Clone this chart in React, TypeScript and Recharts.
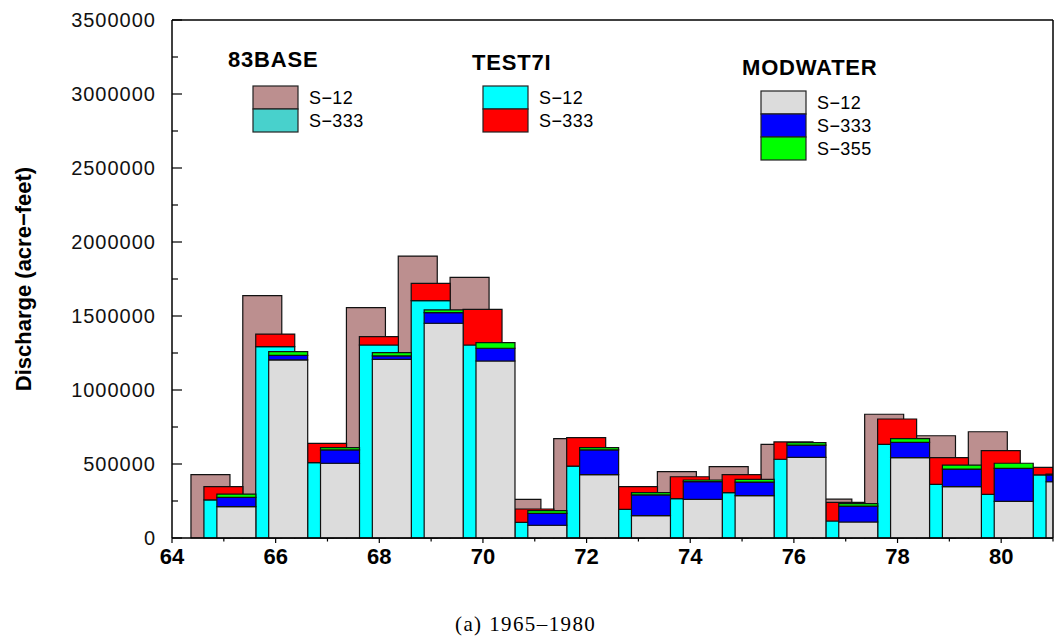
import React from 'react';
import { ComposedChart, Bar, XAxis, YAxis, ReferenceLine, Legend } from 'recharts';

// two-digit water years, 1965 .. 1981 (last one runs off the right edge)
const years = [65, 66, 67, 68, 69, 70, 71, 72, 73, 74, 75, 76, 77, 78, 79, 80, 81];

// 83BASE run
const base83S12 = [428000, 1637000, 630000, 1556000, 1905000, 1761000, 261000, 671000, 330000, 448000, 482000, 633000, 262000, 836000, 691000, 718000, 400000];
const base83S333 = [0, 0, 0, 0, 0, 0, 0, 0, 0, 0, 0, 0, 0, 0, 0, 0, 0];

// TEST7I run
const test7iS12 = [257000, 1293000, 509000, 1304000, 1604000, 1304000, 106000, 486000, 194000, 266000, 306000, 532000, 115000, 633000, 363000, 295000, 426000];
const test7iS333 = [90000, 85000, 131000, 56000, 117000, 241000, 90000, 192000, 153000, 148000, 122000, 117000, 126000, 171000, 180000, 295000, 51000];

// MODWATER run
const modS12 = [212000, 1203000, 505000, 1207000, 1451000, 1196000, 86000, 428000, 151000, 261000, 286000, 545000, 108000, 543000, 347000, 248000, 380000];
const modS333 = [63000, 31000, 90000, 23000, 72000, 86000, 81000, 167000, 140000, 120000, 92000, 83000, 108000, 103000, 119000, 223000, 46000];
const modS355 = [22000, 25000, 15000, 22000, 18000, 38000, 18000, 15000, 15000, 11000, 18000, 16000, 16000, 25000, 27000, 34000, 5000];

const xTicks = [64, 65, 66, 67, 68, 69, 70, 71, 72, 73, 74, 75, 76, 77, 78, 79, 80, 81];
const yTicks = [0, 250000, 500000, 750000, 1000000, 1250000, 1500000, 1750000, 2000000, 2250000, 2500000, 2750000, 3000000, 3250000, 3500000];

const runNames = ['83BASE', 'TEST7I', 'MODWATER'];
const structureNames = ['S−12', 'S−333', 'S−355'];

const data = years.map((yr, i) => ({
  year: yr,
  xBase: yr - 0.25,
  xTest: yr,
  xMod: yr + 0.25,
  baseS12: base83S12[i],
  baseS333: base83S333[i],
  testS12: test7iS12[i],
  testS333: test7iS333[i],
  modS12: modS12[i],
  modS333: modS333[i],
  modS355: modS355[i],
}));

const colors: Record<string, string> = {
  baseS12: '#bc8f8f',
  baseS333: '#48d1cc',
  testS12: '#00ffff',
  testS333: '#ff0000',
  modS12: '#dcdcdc',
  modS333: '#0000ff',
  modS355: '#00ff00',
};

const FONT = "'Liberation Sans', Arial, Helvetica, sans-serif";
const BAR_SIZE = 39;

const legendGroups = [
  { title: runNames[0], tx: 220, ty: 59, sx: 245, sy: 78, keys: ['baseS12', 'baseS333'] },
  { title: runNames[1], tx: 464, ty: 62, sx: 475, sy: 78, keys: ['testS12', 'testS333'] },
  { title: runNames[2], tx: 734, ty: 67, sx: 753, sy: 83, keys: ['modS12', 'modS333', 'modS355'] },
];

const renderLegend = () => (
  <svg width={1047} height={170} style={{ display: 'block' }}>
    {legendGroups.map((g) => (
      <g key={g.title}>
        <text x={g.tx} y={g.ty} fontFamily={FONT} fontSize={22} fontWeight="bold" letterSpacing={0.8} fill="#000">
          {g.title}
        </text>
        {g.keys.map((k, j) => (
          <g key={k}>
            <rect x={g.sx} y={g.sy + j * 23} width={45} height={23} fill={colors[k]} stroke="#222" strokeWidth={1.2} />
            <text x={g.sx + 56} y={g.sy + j * 23 + 18} fontFamily={FONT} fontSize={18} letterSpacing={0.4} fill="#000">
              {structureNames[j]}
            </text>
          </g>
        ))}
      </g>
    ))}
  </svg>
);

const LeftTick = (props: any) => {
  const { x, y, payload } = props;
  const major = payload.value % 500000 === 0;
  return (
    <g>
      <line x1={x} y1={y} x2={x + (major ? 10 : 6)} y2={y} stroke="#000" strokeWidth={1.2} />
      {major && (
        <text x={x - 16} y={y} dy={7} textAnchor="end" fontFamily={FONT} fontSize={20} letterSpacing={1} fill="#111">
          {payload.value}
        </text>
      )}
    </g>
  );
};

const RightTick = (props: any) => {
  const { x, y, payload } = props;
  const major = payload.value % 500000 === 0;
  return <line x1={x} y1={y} x2={x - (major ? 8 : 6)} y2={y} stroke="#000" strokeWidth={1.2} />;
};

const BottomTick = (props: any) => {
  const { x, y, payload } = props;
  const major = payload.value % 2 === 0;
  return (
    <g>
      <line x1={x} y1={y} x2={x} y2={y + (major ? 5 : 3.5)} stroke="#000" strokeWidth={1.2} />
      {major && (
        <text x={x} y={y + 26} textAnchor="middle" fontFamily={FONT} fontSize={22} fontWeight="bold" fill="#000">
          {payload.value}
        </text>
      )}
    </g>
  );
};

export default function App() {
  const axisLine = { stroke: '#000', strokeWidth: 1.5 };
  const barProps = { yAxisId: 'left', stroke: '#111', strokeWidth: 1.2, barSize: BAR_SIZE, isAnimationActive: false };

  return (
    <div style={{ position: 'relative', width: 1055, height: 640, background: '#fff', overflow: 'hidden' }}>
      <style>{'html, body { margin: 0; padding: 0; overflow: hidden; }'}</style>
      <div style={{ position: 'absolute', left: 8, top: 8 }}>
        <ComposedChart width={1047} height={590} data={data} margin={{ top: 12, right: 2, bottom: 0, left: 0 }}>
          <XAxis
            xAxisId="test"
            dataKey="xTest"
            type="number"
            domain={[64, 81]}
            allowDataOverflow
            ticks={xTicks}
            interval={0}
            height={60}
            tickSize={0}
            tickMargin={0}
            tickLine={false}
            axisLine={axisLine}
            tick={<BottomTick />}
          />
          <XAxis xAxisId="base" dataKey="xBase" type="number" domain={[64, 81]} allowDataOverflow orientation="top" height={0} hide />
          <XAxis xAxisId="mod" dataKey="xMod" type="number" domain={[64, 81]} allowDataOverflow orientation="top" height={0} hide />
          <YAxis
            yAxisId="left"
            type="number"
            domain={[0, 3500000]}
            ticks={yTicks}
            interval={0}
            width={164}
            tickSize={0}
            tickMargin={0}
            tickLine={false}
            axisLine={axisLine}
            tick={<LeftTick />}
            label={{
              value: 'Discharge (acre−feet)',
              angle: -90,
              position: 'insideLeft',
              offset: 15,
              style: { textAnchor: 'middle', fontSize: 22, fontWeight: 'bold', fontFamily: FONT, fill: '#000' },
            }}
          />
          <YAxis
            yAxisId="right"
            orientation="right"
            mirror
            type="number"
            domain={[0, 3500000]}
            ticks={yTicks}
            interval={0}
            width={0}
            tickSize={0}
            tickMargin={0}
            tickLine={false}
            axisLine={axisLine}
            tick={<RightTick />}
          />
          <ReferenceLine xAxisId="test" yAxisId="left" y={3500000} stroke="#000" strokeWidth={1.5} />
          <ReferenceLine xAxisId="test" yAxisId="left" x={81} stroke="#000" strokeWidth={1.5} />

          <Bar {...barProps} xAxisId="base" stackId="base" dataKey="baseS12" fill={colors.baseS12} />
          <Bar {...barProps} xAxisId="base" stackId="base" dataKey="baseS333" fill={colors.baseS333} />
          <Bar {...barProps} xAxisId="test" stackId="test" dataKey="testS12" fill={colors.testS12} />
          <Bar {...barProps} xAxisId="test" stackId="test" dataKey="testS333" fill={colors.testS333} />
          <Bar {...barProps} xAxisId="mod" stackId="mod" dataKey="modS12" fill={colors.modS12} />
          <Bar {...barProps} xAxisId="mod" stackId="mod" dataKey="modS333" fill={colors.modS333} />
          <Bar {...barProps} xAxisId="mod" stackId="mod" dataKey="modS355" fill={colors.modS355} />

          <Legend
            layout="vertical"
            align="center"
            verticalAlign="middle"
            wrapperStyle={{ left: 0, top: 0, width: 1047, height: 170 }}
            content={renderLegend}
          />
        </ComposedChart>
      </div>
      <div
        style={{
          position: 'absolute',
          left: 455,
          top: 613,
          fontFamily: "'Liberation Serif', 'DejaVu Serif', serif",
          fontSize: 21,
          lineHeight: '22px',
          letterSpacing: 1.4,
          whiteSpace: 'nowrap',
        }}
      >
        (a) 1965–1980
      </div>
    </div>
  );
}
